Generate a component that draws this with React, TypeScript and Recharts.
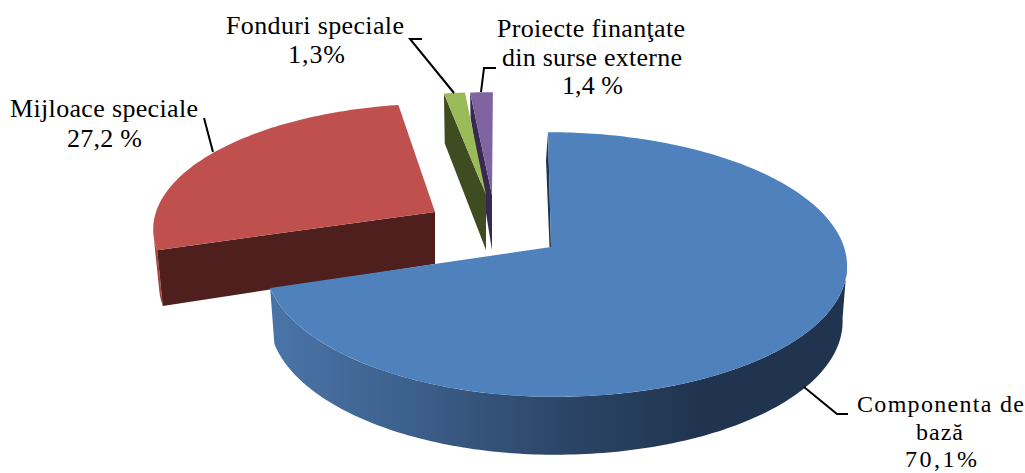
import React from "react";
import { PieChart, Pie } from "recharts";

// Drawn last-to-first: the blue slice must sit on top, so data runs counter-clockwise from the top.
const categories = ["Proiecte finanţate din surse externe", "Fonduri speciale", "Mijloace speciale", "Componenta de bază"];
const values = [1.4, 1.3, 27.2, 70.1];
const faceColors = ["#8064a2", "#9bbb59", "#c0504d", "#4f81bd"];
const wallColors = ["#38294f", "#3f4c21", "#4f1f1e", "url(#blueWall)"];
const labelLines = [
  ["Proiecte finanţate", "din surse externe", "1,4 %"],
  ["Fonduri speciale", "1,3%"],
  ["Mijloace speciale", "27,2 %"],
  ["Componenta de", "bază", "70,1%"],
];

const data = categories.map((name, i) => ({ name, value: values[i], i }));

// Projection of each exploded slice (perspective look of the 3-D pie)
const geo = [
  { ox: -8, oy: -30, rxL: 2.9, rxR: 2.9, ry: 1.15, k: 0.1186, s: 1, d0: 55, d1: 30, xs: 0.98 },
  { ox: -14, oy: -30, rxL: 2.9, rxR: 2.9, ry: 1.15, k: 0.1186, s: 2, d0: 55, d1: 5, xs: 0.98 },
  { ox: -65, oy: -13, rxL: 2.79, rxR: 2.79, ry: 1.213, k: 0.1186, s: 6.3, d0: 52, d1: 13, xs: 0.98 },
  { ox: 51, oy: 22, rxL: 2.84, rxR: 2.93, ry: 1.3, k: 0.132, s: -3.4, d0: 55, d1: 3, xs: 0.985 },
];

const labelStyle = [
  {
    size: 26,
    lines: [[591, 37, 188], [592, 66, 180], [592.5, 94, 61]],
    leader: "496,68 484,68 481,92",
  },
  {
    size: 26,
    lines: [[315, 34, 178], [316.5, 63, 57]],
    leader: "422,39 410,39 454,93",
  },
  {
    size: 26,
    lines: [[104, 117, 188], [104.5, 147, 75]],
    leader: "204,118 213,152",
  },
  {
    size: 24,
    lines: [[940.5, 412, 167], [939.5, 439.5, 47], [941, 467, 72]],
    leader: "804,387 837,414 848,414",
  },
];

const toPath = (pts: number[][]) =>
  pts.map((p, i) => `${i ? "L" : "M"}${p[0].toFixed(2)},${p[1].toFixed(2)}`).join("") + "Z";

function Slice(props: any) {
  const { cx, cy, outerRadius: r, startAngle, endAngle, payload } = props;
  const idx = payload?.i ?? props.i ?? props.index;
  const g = geo[idx];
  const ax = cx + g.ox;
  const ay = cy + g.oy;

  const top = (a: number) => {
    const t = (a * Math.PI) / 180;
    const u = Math.cos(t);
    const v = Math.sin(t);
    const w = 1 + g.k * v;
    const rx = (u < 0 ? g.rxL : g.rxR) * r;
    return [ax + (rx * u + g.s * v) / w, ay - (g.ry * r * v) / w];
  };
  const bottom = (a: number) => {
    const p = top(a);
    const v = Math.sin((a * Math.PI) / 180);
    return [ax + (p[0] - ax) * g.xs, p[1] + g.d0 - g.d1 * v];
  };
  const arc = (from: number, to: number, fn: (a: number) => number[]) => {
    const n = Math.max(2, Math.ceil(Math.abs(to - from)));
    return Array.from({ length: n + 1 }, (_, i) => fn(from + ((to - from) * i) / n));
  };

  const face = toPath([[ax, ay], ...arc(startAngle, endAngle, top)]);
  const apexB = [ax, ay + g.d0];
  let walls: React.ReactNode = null;

  if (idx === 3) {
    const wallEnd = 353;
    const p = top(endAngle);
    walls = (
      <>
        <defs>
          <linearGradient id="blueWall" gradientUnits="userSpaceOnUse" x1="270" y1="0" x2="846" y2="0">
            <stop offset="0" stopColor="#4a74a8" />
            <stop offset="0.22" stopColor="#3e628f" />
            <stop offset="0.5" stopColor="#2c4668" />
            <stop offset="0.75" stopColor="#20344f" />
            <stop offset="1" stopColor="#20344f" />
          </linearGradient>
        </defs>
        <path
          d={toPath([...arc(startAngle, wallEnd, top), ...arc(wallEnd, startAngle, bottom)])}
          fill={wallColors[idx]}
        />
        <path
          d={toPath([p, [p[0] - 2, p[1] + 28], [ax - 1.5, ay], [ax, ay]])}
          fill="#1f3552"
        />
      </>
    );
  } else if (idx === 2) {
    const sil = 190;
    walls = (
      <>
        <path d={toPath([...arc(sil, endAngle, top), ...arc(endAngle, sil, bottom)])} fill="#a5443f" />
        <path d={toPath([top(endAngle), bottom(endAngle), apexB, [ax, ay]])} fill={wallColors[idx]} />
      </>
    );
  } else {
    walls = <path d={toPath([top(endAngle), bottom(endAngle), apexB, [ax, ay]])} fill={wallColors[idx]} />;
  }

  return (
    <g>
      {walls}
      <path d={face} fill={faceColors[idx]} />
    </g>
  );
}

function SliceLabel(props: any) {
  const idx = props.payload?.i ?? props.i ?? props.index;
  const st = labelStyle[idx];
  return (
    <g>
      <polyline points={st.leader} fill="none" stroke="#000" strokeWidth={2} />
      {labelLines[idx].map((t, j) => (
        <text
          key={j}
          x={st.lines[j][0]}
          y={st.lines[j][1]}
          textAnchor="middle"
          textLength={st.lines[j][2]}
          lengthAdjust="spacing"
          fontFamily="'Liberation Serif', serif"
          fontSize={st.size}
          fill="#000"
        >
          {t}
        </text>
      ))}
    </g>
  );
}

export default function App() {
  return (
    <div style={{ position: "absolute", left: 0, top: 0, width: 1025, height: 473, background: "#fff" }}>
      <PieChart width={1025} height={473} margin={{ top: 0, right: 0, bottom: 0, left: 0 }}>
        <Pie
          data={data}
          dataKey="value"
          nameKey="name"
          cx={500}
          cy={225}
          innerRadius={0}
          outerRadius={100}
          startAngle={90}
          endAngle={450}
          paddingAngle={0}
          stroke="none"
          isAnimationActive={false}
          shape={Slice}
          label={SliceLabel}
          labelLine={false}
        />
      </PieChart>
    </div>
  );
}
